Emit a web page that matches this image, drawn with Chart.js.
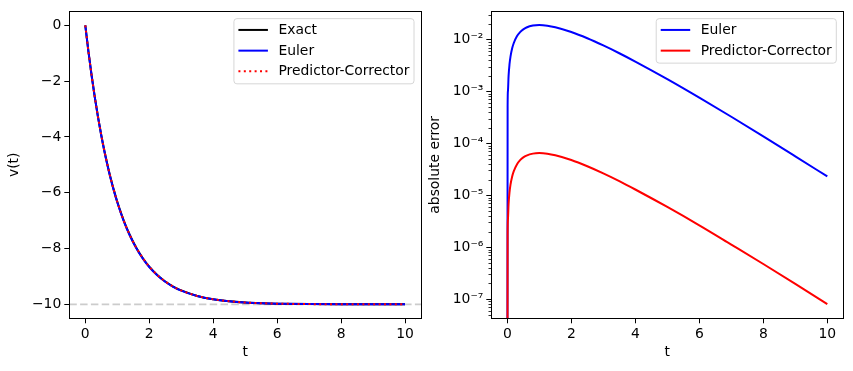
<!DOCTYPE html>
<html>
<head>
<meta charset="utf-8">
<script src="https://cdn.jsdelivr.net/npm/chart.js@4.4.1/dist/chart.umd.min.js"></script>
<style>
  html, body { margin: 0; padding: 0; background: #fff; }
  #wrap { position: relative; width: 853px; height: 371px; overflow: hidden; }
  #c1 { position: absolute; left: 0; top: 0; }
  #c2 { position: absolute; left: 426px; top: 0; }
</style>
</head>
<body>
<div id="wrap">
  <canvas id="c1" width="426" height="371"></canvas>
  <canvas id="c2" width="427" height="371"></canvas>
</div>
<script>
// ---------- data ----------
const tV = [0,0.1,0.2,0.3,0.4,0.5,0.6,0.7,0.8,0.9,1.0,1.2,1.4,1.6,1.8,2.0,2.25,2.5,2.75,3.0,3.5,4.0,4.5,5,5.5,6,7,8,9,10];
const vExact = [0,-0.952,-1.813,-2.592,-3.297,-3.935,-4.512,-5.034,-5.507,-5.934,-6.321,-6.988,-7.534,-7.981,-8.347,-8.647,-8.946,-9.179,-9.361,-9.502,-9.698,-9.817,-9.889,-9.933,-9.959,-9.975,-9.991,-9.997,-9.999,-10.000];
const vEuler = [0,-0.957,-1.821,-2.603,-3.310,-3.950,-4.529,-5.051,-5.525,-5.952,-6.339,-7.006,-7.551,-7.997,-8.362,-8.661,-8.958,-9.189,-9.370,-9.509,-9.703,-9.821,-9.891,-9.935,-9.960,-9.976,-9.991,-9.997,-9.999,-10.000];
const vPC = [0,-0.952,-1.813,-2.592,-3.297,-3.935,-4.512,-5.034,-5.507,-5.934,-6.321,-6.988,-7.534,-7.981,-8.347,-8.647,-8.946,-9.179,-9.361,-9.502,-9.698,-9.817,-9.889,-9.933,-9.959,-9.975,-9.991,-9.997,-9.999,-10.000];
const terminalV = -10;

const tErr = [0,0.01,0.02,0.04,0.07,0.1,0.15,0.2,0.3,0.4,0.5,0.6,0.8,1.0,1.25,1.5,2,2.5,3,3.5,4,5,6,7,8,9,10];
// first value ~0 (error is zero at t=0; drops off the log axis)
const errEuler = [1e-12,5.13e-4,1.017e-3,1.993e-3,3.384e-3,4.691e-3,6.691e-3,8.486e-3,1.152e-2,1.389e-2,1.571e-2,1.705e-2,1.860e-2,1.902e-2,1.851e-2,1.729e-2,1.397e-2,1.058e-2,7.68e-3,5.44e-3,3.76e-3,1.725e-3,7.59e-4,3.25e-4,1.363e-4,5.62e-5,2.30e-5];
const errPC = [1e-12,1.74e-6,3.45e-6,6.78e-6,1.152e-5,1.596e-5,2.28e-5,2.89e-5,3.92e-5,4.74e-5,5.36e-5,5.81e-5,6.34e-5,6.49e-5,6.32e-5,5.90e-5,4.78e-5,3.62e-5,2.64e-5,1.87e-5,1.29e-5,5.94e-6,2.63e-6,1.12e-6,4.74e-7,1.96e-7,8.01e-8];

const xTicks = [0,2,4,6,8,10];
const vTicks = [-10,-8,-6,-4,-2,0];
const errTickExps = [-7,-6,-5,-4,-3,-2];

// ---------- helpers ----------
const FONT = 'DejaVu Sans';
const FS = 13.9;
const pts = (xs, ys) => xs.map((x, i) => ({x: x, y: ys[i]}));
const fmt = v => (v < 0 ? '\u2212' + Math.abs(v) : String(v));
const supMap = {'-':'\u207B','0':'\u2070','1':'\u00B9','2':'\u00B2','3':'\u00B3','4':'\u2074','5':'\u2075','6':'\u2076','7':'\u2077','8':'\u2078','9':'\u2079'};
const sup = s => String(s).split('').map(c => supMap[c] || c).join('');

Chart.defaults.font.family = FONT;
Chart.defaults.font.size = FS;
Chart.defaults.color = '#000';

// frame (top/right spines) + matplotlib-like legend
const framePlugin = {
  id: 'frame',
  afterDatasetsDraw(chart) {
    const ctx = chart.ctx, a = chart.chartArea;
    ctx.save();
    ctx.strokeStyle = '#000';
    ctx.lineWidth = 1;
    ctx.strokeRect(Math.round(a.left) + 0.5, Math.round(a.top) + 0.5,
                   Math.round(a.right) - Math.round(a.left), Math.round(a.bottom) - Math.round(a.top));
    ctx.restore();
  }
};

const mplLegend = {
  id: 'mplLegend',
  afterDraw(chart, args, opts) {
    const items = chart.data.datasets.filter(d => d.label);
    if (!items.length) return;
    const ctx = chart.ctx, a = chart.chartArea;
    ctx.save();
    ctx.font = FS + 'px ' + FONT;
    let tw = 0;
    items.forEach(d => { tw = Math.max(tw, ctx.measureText(d.label).width); });
    const handleLen = 29.5, padL = 4.5, gap = 10.5, padR = 4.5, rowH = 20.7, padT = 11.3;
    const w = padL + handleLen + gap + tw + padR;
    const h = padT + rowH * (items.length - 1) + 12.5;
    const right = a.right - 7, top = a.top + 7.3;
    const left = right - w;
    // box
    const r = 3;
    ctx.beginPath();
    ctx.moveTo(left + r, top);
    ctx.lineTo(left + w - r, top);
    ctx.quadraticCurveTo(left + w, top, left + w, top + r);
    ctx.lineTo(left + w, top + h - r);
    ctx.quadraticCurveTo(left + w, top + h, left + w - r, top + h);
    ctx.lineTo(left + r, top + h);
    ctx.quadraticCurveTo(left, top + h, left, top + h - r);
    ctx.lineTo(left, top + r);
    ctx.quadraticCurveTo(left, top, left + r, top);
    ctx.closePath();
    ctx.fillStyle = 'rgba(255,255,255,0.8)';
    ctx.fill();
    ctx.strokeStyle = '#d6d6d6';
    ctx.lineWidth = 1;
    ctx.stroke();
    items.forEach((d, i) => {
      const y = top + padT + i * rowH;
      ctx.beginPath();
      ctx.strokeStyle = d.borderColor;
      ctx.lineWidth = d.borderWidth;
      ctx.setLineDash(d.borderDash || []);
      ctx.moveTo(left + padL, y);
      ctx.lineTo(left + padL + handleLen, y);
      ctx.stroke();
      ctx.setLineDash([]);
      ctx.fillStyle = '#000';
      ctx.textBaseline = 'middle';
      ctx.textAlign = 'left';
      ctx.fillText(d.label, left + padL + handleLen + gap, y + 0.5);
    });
    ctx.restore();
  }
};

// minor log ticks
const minorTicks = {
  id: 'minorTicks',
  afterDraw(chart) {
    const ys = chart.scales.y;
    if (ys.type !== 'logarithmic') return;
    const ctx = chart.ctx, a = chart.chartArea;
    ctx.save();
    ctx.strokeStyle = '#000';
    ctx.lineWidth = 0.8;
    for (let k = -9; k <= -1; k++) {
      for (let m = 2; m <= 9; m++) {
        const v = m * Math.pow(10, k);
        if (v < ys.min || v > ys.max) continue;
        const y = Math.round(ys.getPixelForValue(v)) + 0.5;
        ctx.beginPath();
        ctx.moveTo(a.left, y);
        ctx.lineTo(a.left - 2.8, y);
        ctx.stroke();
      }
    }
    ctx.restore();
  }
};

function xScale() {
  return {
    type: 'linear', min: -0.5, max: 10.5,
    afterBuildTicks: s => { s.ticks = xTicks.map(v => ({value: v})); },
    afterFit: s => { s.height = 52.7; },
    grid: { drawOnChartArea: false, drawTicks: true, tickLength: 5, tickColor: '#000', tickWidth: 1 },
    border: { display: true, color: '#000', width: 1 },
    ticks: { padding: 3, color: '#000', maxRotation: 0, autoSkip: false, callback: v => fmt(v) },
    title: { display: true, text: 't', color: '#000', font: {size: FS}, padding: {top: 0, bottom: 10} }
  };
}

// ---------- left chart ----------
new Chart(document.getElementById('c1'), {
  type: 'line',
  data: {
    datasets: [
      { data: pts([-0.5, 10.5], [terminalV, terminalV]), borderColor: 'rgba(128,128,128,0.4)', borderWidth: 1.6, borderDash: [7.5, 3.3], pointRadius: 0, order: 4 },
      { label: 'Exact', data: pts(tV, vExact), borderColor: '#000000', borderWidth: 2, pointRadius: 0, cubicInterpolationMode: 'monotone', order: 3 },
      { label: 'Euler', data: pts(tV, vEuler), borderColor: '#0000ff', borderWidth: 2, pointRadius: 0, cubicInterpolationMode: 'monotone', order: 2 },
      { label: 'Predictor-Corrector', data: pts(tV, vPC), borderColor: '#ff0000', borderWidth: 2, borderDash: [2, 3.4], pointRadius: 0, cubicInterpolationMode: 'monotone', order: 1 }
    ]
  },
  options: {
    responsive: false, animation: false, parsing: true,
    layout: { padding: { left: 0, right: 5, top: 10, bottom: 0 } },
    plugins: { legend: { display: false }, tooltip: { enabled: false } },
    scales: {
      x: xScale(),
      y: {
        type: 'linear', min: -10.5, max: 0.5,
        afterBuildTicks: s => { s.ticks = vTicks.map(v => ({value: v})); },
        afterFit: s => { s.width = 69.3; },
        grid: { drawOnChartArea: false, drawTicks: true, tickLength: 5, tickColor: '#000', tickWidth: 1 },
        border: { display: true, color: '#000', width: 1 },
        ticks: { padding: 3, color: '#000', autoSkip: false, callback: v => fmt(v) },
        title: { display: true, text: 'v(t)', color: '#000', font: {size: FS}, padding: {top: 6.5, bottom: 0} }
      }
    }
  },
  plugins: [framePlugin, mplLegend]
});

// ---------- right chart ----------
new Chart(document.getElementById('c2'), {
  type: 'line',
  data: {
    datasets: [
      { label: 'Euler', data: pts(tErr, errEuler), borderColor: '#0000ff', borderWidth: 2, pointRadius: 0, cubicInterpolationMode: 'monotone', order: 2 },
      { label: 'Predictor-Corrector', data: pts(tErr, errPC), borderColor: '#ff0000', borderWidth: 2, pointRadius: 0, cubicInterpolationMode: 'monotone', order: 1 }
    ]
  },
  options: {
    responsive: false, animation: false,
    layout: { padding: { left: 0, right: 9.7, top: 10, bottom: 0 } },
    plugins: { legend: { display: false }, tooltip: { enabled: false } },
    scales: {
      x: xScale(),
      y: {
        type: 'logarithmic', min: 4.26e-8, max: 3.49e-2,
        afterBuildTicks: s => { s.ticks = errTickExps.map(e => ({value: Math.pow(10, e)})); },
        afterFit: s => { s.width = 65.3; },
        grid: { drawOnChartArea: false, drawTicks: true, tickLength: 5, tickColor: '#000', tickWidth: 1 },
        border: { display: true, color: '#000', width: 1 },
        ticks: { padding: 3, color: '#000', autoSkip: false,
                 callback: v => '10' + sup(Math.round(Math.log10(v))) },
        title: { display: true, text: 'absolute error', color: '#000', font: {size: FS}, padding: {top: 0.8, bottom: 0} }
      }
    }
  },
  plugins: [framePlugin, mplLegend, minorTicks]
});
</script>
</body>
</html>
